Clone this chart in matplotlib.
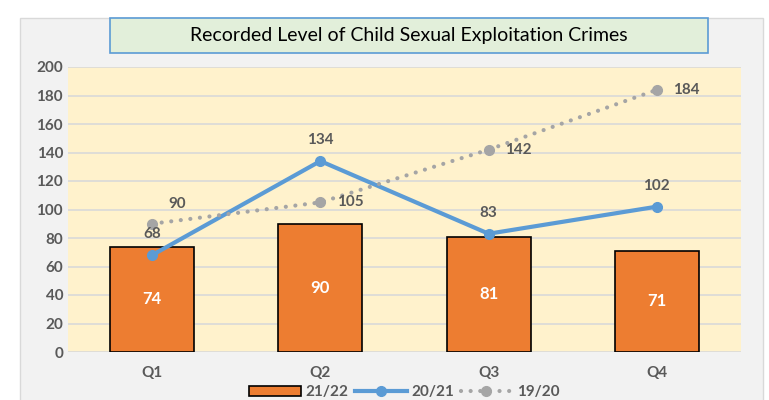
import numpy as np
import matplotlib.pyplot as plt
from matplotlib.patches import Rectangle

quarters = ["Q1", "Q2", "Q3", "Q4"]
s2122 = [74, 90, 81, 71]
s2021 = [68, 134, 83, 102]
s1920 = [90, 105, 142, 184]

plt.rcParams["font.family"] = ["Lato", "DejaVu Sans"]
txt = "#595959"

fig = plt.figure(figsize=(7.69, 4.0), dpi=100, facecolor="white")
# outer chart frame
fig.patches.append(Rectangle((20 / 769, -0.01), 743 / 769, 386 / 400, transform=fig.transFigure,
                             facecolor="#f2f2f2", edgecolor="#d9d9d9", lw=1, zorder=-5))
# title box
fig.patches.append(Rectangle((110 / 769, 347 / 400), 598 / 769, 35 / 400, transform=fig.transFigure,
                             facecolor="#e2efda", edgecolor="#5b9bd5", lw=1.2, zorder=-4))

ax = fig.add_axes([68 / 769, 48 / 400, 673 / 769, 285 / 400])
ax.set_facecolor("#fff2cc")
x = np.arange(len(quarters))

b = ax.bar(x, s2122, width=0.5, color="#ed7d31", edgecolor="black", lw=1.2, zorder=3, label="21/22")
l1, = ax.plot(x, s2021, color="#5b9bd5", lw=3, marker="o", ms=7, zorder=4, label="20/21")
l2, = ax.plot(x, s1920, color="#a5a5a5", lw=3, ls=(0, (0.01, 2.3)), marker="o", ms=7, zorder=4,
              label="19/20", dash_capstyle="round")

for xi, v in zip(x, s2122):
    ax.text(xi, v / 2, str(v), ha="center", va="center", color="white",
            fontsize=12, fontweight="bold", zorder=5)
for xi, v in zip(x, s2021):
    ax.annotate(str(v), (xi, v), xytext=(0, 10), textcoords="offset points",
                ha="center", va="bottom", color=txt, fontsize=11, fontweight="bold", zorder=5)
for i, (xi, v) in enumerate(zip(x, s1920)):
    off = (12, 14) if i == 0 else (12, 0)
    ax.annotate(str(v), (xi, v), xytext=off, textcoords="offset points",
                ha="left", va="center", color=txt, fontsize=11, fontweight="bold", zorder=5)

ax.set_xlim(-0.5, 3.5)
ax.set_ylim(0, 200)
ax.set_yticks(range(0, 201, 20))
ax.set_xticks(x)
ax.set_xticklabels(quarters)
ax.grid(axis="y", color="#d9d9d9", lw=1.2, zorder=1)
for s in ax.spines.values():
    s.set_visible(False)
ax.tick_params(length=0, colors=txt, labelsize=11)
ax.tick_params(axis="x", pad=10)
for lab in ax.get_xticklabels() + ax.get_yticklabels():
    lab.set_fontweight("bold")

leg = ax.legend([b, l1, l2], ["21/22", "20/21", "19/20"], loc="upper center",
                bbox_to_anchor=(0.5, -0.085), ncol=3, frameon=False,
                fontsize=11, handlelength=3.4, columnspacing=0.4, handletextpad=0.3,
                borderpad=0.1)
for t in leg.get_texts():
    t.set_color(txt)
    t.set_fontweight("bold")

fig.text(409 / 769, 364.5 / 400, "Recorded Level of Child Sexual Exploitation Crimes",
         ha="center", va="center", fontsize=14, color="black")

fig.savefig("out.png", dpi=100)
